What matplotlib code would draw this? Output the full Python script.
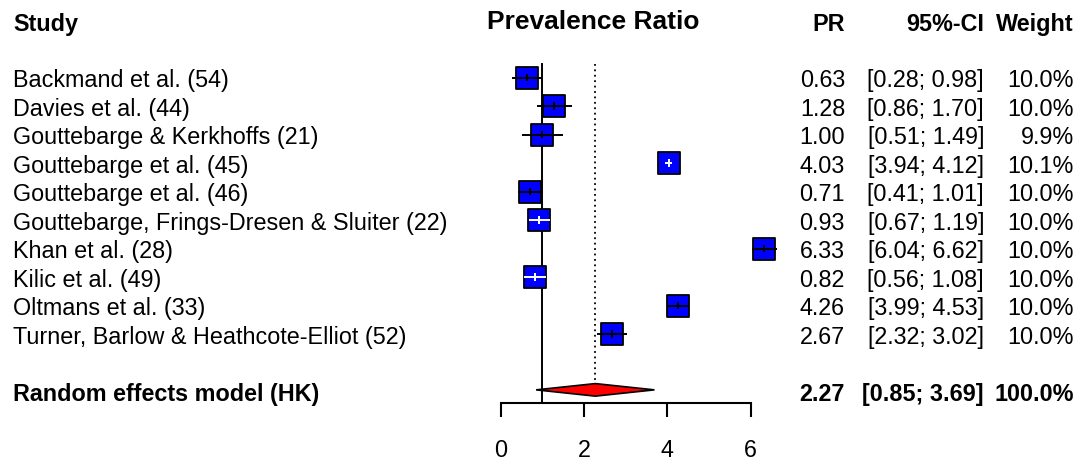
import matplotlib
matplotlib.use("Agg")
import matplotlib.pyplot as plt
from matplotlib.patches import Polygon
from matplotlib.transforms import blended_transform_factory

plt.rcParams['font.family'] = ['Liberation Sans', 'DejaVu Sans']

# ---- data ----
studies = ["Backmand et al. (54)", "Davies et al. (44)", "Gouttebarge & Kerkhoffs (21)",
           "Gouttebarge et al. (45)", "Gouttebarge et al. (46)",
           "Gouttebarge, Frings-Dresen & Sluiter (22)", "Khan et al. (28)",
           "Kilic et al. (49)", "Oltmans et al. (33)",
           "Turner, Barlow & Heathcote-Elliot (52)"]
pr = [0.63, 1.28, 1.00, 4.03, 0.71, 0.93, 6.33, 0.82, 4.26, 2.67]
ci_low = [0.28, 0.86, 0.51, 3.94, 0.41, 0.67, 6.04, 0.56, 3.99, 2.32]
ci_high = [0.98, 1.70, 1.49, 4.12, 1.01, 1.19, 6.62, 1.08, 4.53, 3.02]
weights = [10.0, 10.0, 9.9, 10.1, 10.0, 10.0, 10.0, 10.0, 10.0, 10.0]
pooled_label = "Random effects model (HK)"
pooled_pr = 2.27
pooled_low = 0.85
pooled_high = 3.69
pooled_weight = 100.0
null_value = 1.0
x_ticks = [0, 2, 4, 6]

# ---- layout constants ----
W, H, DPI = 1081, 460, 100
px_per_unit = 41.67
x0_px = 500.7
row0_px = 78.5
row_px = 28.5
box_px = 22.5

fig = plt.figure(figsize=(W / DPI, H / DPI), dpi=DPI)
ax = fig.add_axes([0, 0, 1, 1])
ax.set_xlim(-x0_px / px_per_unit, (W - x0_px) / px_per_unit)
ax.set_ylim((H - row0_px) / row_px, -row0_px / row_px)
for s in ['top', 'left', 'right']:
    ax.spines[s].set_visible(False)
ax.set_yticks([])
ax.patch.set_visible(False)

n = len(studies)
pooled_row = n + 1
axis_row = pooled_row + 0.43
top_row = -0.47

# x axis
ax.spines['bottom'].set_position(('data', axis_row))
ax.spines['bottom'].set_bounds(min(x_ticks), max(x_ticks))
ax.spines['bottom'].set_linewidth(1.5)
ax.set_xticks(x_ticks)
ax.set_xticklabels([str(t) for t in x_ticks])
ax.tick_params(axis='x', direction='out', length=10, width=1.5, pad=15,
               labelsize=16.8)

# reference lines
ax.plot([null_value, null_value], [top_row, axis_row], color='black', lw=1.4, zorder=2)
ax.plot([pooled_pr, pooled_pr], [top_row, pooled_row - 0.23], color='black', lw=1.3,
        linestyle=(0, (1, 2)), zorder=2)

# study rows
for i in range(n):
    side = box_px * (weights[i] / 10.0) ** 0.5
    side_pt = side * 72 / DPI
    ax.scatter([pr[i]], [i], marker='s', s=side_pt ** 2, facecolor='#0000FF',
               edgecolor='black', linewidth=1.3, zorder=3)
    width_px = (ci_high[i] - ci_low[i]) * px_per_unit
    col = 'white' if width_px < side - 0.5 else 'black'
    ax.plot([ci_low[i], ci_high[i]], [i, i], color=col, lw=1.4, zorder=4,
            solid_capstyle='butt')
    ax.plot([pr[i], pr[i]], [i - 0.14, i + 0.14], color=col, lw=1.4, zorder=4,
            solid_capstyle='butt')

# pooled diamond
dy = 0.22
yc = pooled_row - 0.04
diamond = Polygon([(pooled_low, yc), (pooled_pr, yc - dy), (pooled_high, yc),
                   (pooled_pr, yc + dy)], closed=True, facecolor='#FF0000',
                  edgecolor='black', linewidth=1.2, zorder=3)
ax.add_patch(diamond)

# text columns
tr = blended_transform_factory(ax.transAxes, ax.transData)
fs = 16.8
x_study = 13 / W
x_pr = 845 / W
x_ci = 984 / W
x_w = 1074 / W
base_off = 0.30
hdr = -1.68

ax.text(x_study, hdr, "Study", transform=tr, ha='left', va='baseline', fontsize=fs,
        fontweight='bold')
ax.text(593.5 / W, hdr - 0.06, "Prevalence Ratio", transform=tr, ha='center',
        va='baseline', fontsize=19, fontweight='bold')
ax.text(x_pr, hdr, "PR", transform=tr, ha='right', va='baseline', fontsize=fs,
        fontweight='bold')
ax.text(x_ci, hdr, "95%-CI", transform=tr, ha='right', va='baseline', fontsize=fs,
        fontweight='bold')
ax.text(x_w, hdr, "Weight", transform=tr, ha='right', va='baseline', fontsize=fs,
        fontweight='bold')

for i in range(n):
    y = i + base_off
    ax.text(x_study, y, studies[i], transform=tr, ha='left', va='baseline', fontsize=fs)
    ax.text(x_pr, y, f"{pr[i]:.2f}", transform=tr, ha='right', va='baseline', fontsize=fs)
    ax.text(x_ci, y, f"[{ci_low[i]:.2f}; {ci_high[i]:.2f}]", transform=tr, ha='right',
            va='baseline', fontsize=fs)
    ax.text(x_w, y, f"{weights[i]:.1f}%", transform=tr, ha='right', va='baseline',
            fontsize=fs)

y = pooled_row + base_off
ax.text(x_study, y, pooled_label, transform=tr, ha='left', va='baseline', fontsize=fs,
        fontweight='bold')
ax.text(x_pr, y, f"{pooled_pr:.2f}", transform=tr, ha='right', va='baseline',
        fontsize=fs, fontweight='bold')
ax.text(x_ci, y, f"[{pooled_low:.2f}; {pooled_high:.2f}]", transform=tr, ha='right',
        va='baseline', fontsize=fs, fontweight='bold')
ax.text(x_w, y, f"{pooled_weight:.1f}%", transform=tr, ha='right', va='baseline',
        fontsize=fs, fontweight='bold')

fig.savefig("out.png", dpi=DPI)
